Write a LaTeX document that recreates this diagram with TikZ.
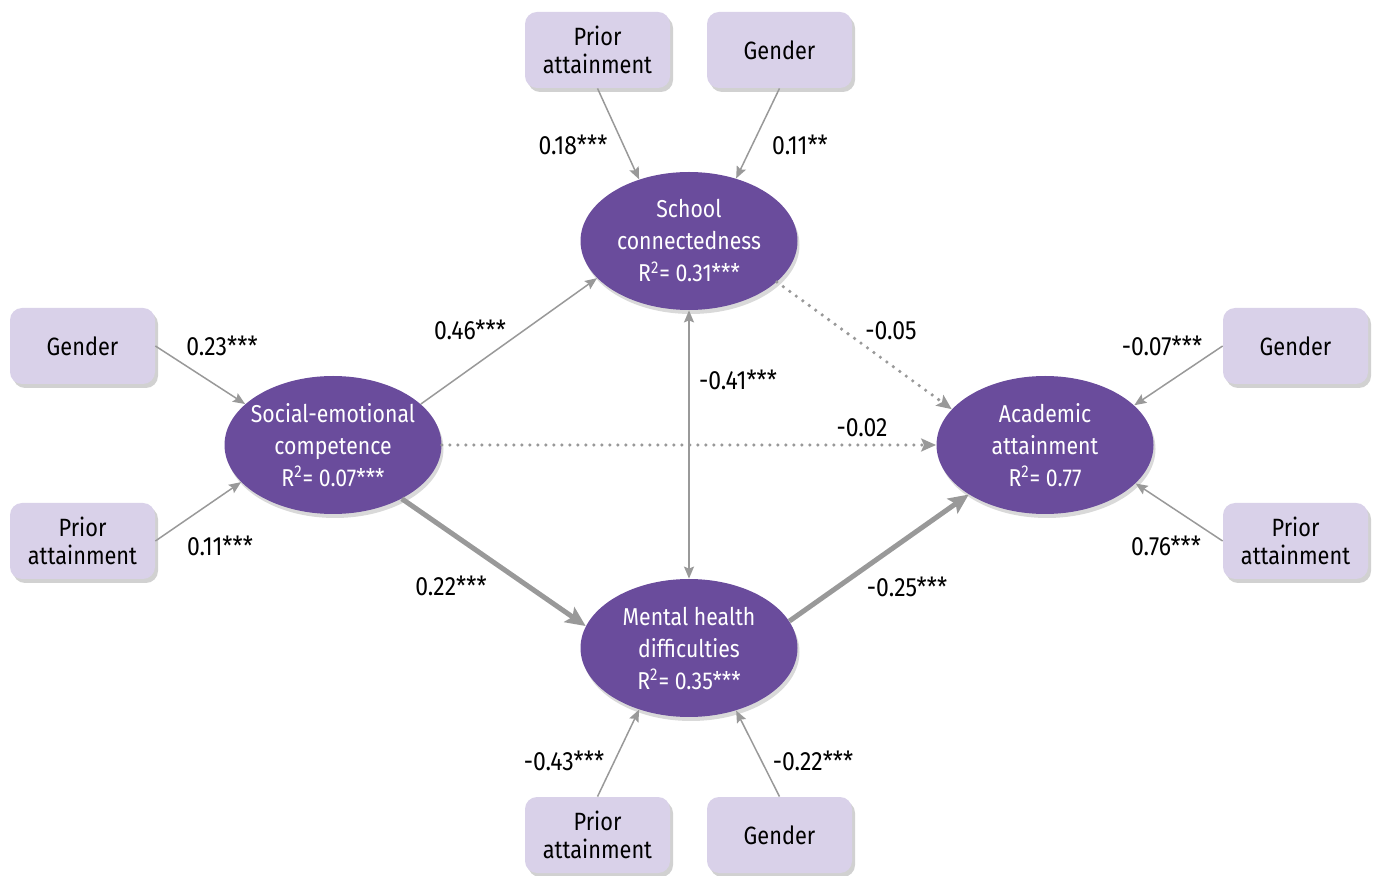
\documentclass[tikz,border=0pt]{standalone}
\usepackage{fontspec}
\setmainfont{Fira Sans}[FakeStretch=0.87]
\usetikzlibrary{shapes.geometric,arrows.meta,shadows}

\definecolor{boxfill}{HTML}{D9D1E9}
\definecolor{latentfill}{HTML}{6A4C9C}
\definecolor{arrowgray}{HTML}{999999}

\tikzset{
  observed/.style={fill=boxfill, rounded corners=6pt, minimum width=72.5pt,
    minimum height=38pt, inner sep=0pt, align=center,
    font=\fontsize{12.5}{14}\selectfont,
    drop shadow={shadow xshift=1.5pt, shadow yshift=-2pt, fill=black, opacity=0.18}},
  latent/.style={ellipse, fill=latentfill, text=white, minimum width=108.5pt,
    minimum height=69pt, inner xsep=-8pt, inner ysep=0pt, align=center,
    font=\fontsize{12.2}{16}\selectfont,
    drop shadow={shadow xshift=1pt, shadow yshift=-2pt, fill=black, opacity=0.15}},
  coef/.style={inner sep=0pt, font=\fontsize{13.2}{14}\selectfont},
  effect/.style={draw=arrowgray, line width=0.75pt,
    -{Stealth[length=6pt, width=5pt, inset=1pt, color=arrowgray]}},
  strongeffect/.style={draw=arrowgray, line width=2.5pt,
    -{Stealth[length=10pt, width=9pt, inset=2pt, color=arrowgray]}},
  nseffect/.style={draw=arrowgray, line width=1.8pt, line cap=round,
    dash pattern=on 0pt off 4pt,
    -{Stealth[length=7.5pt, width=6.5pt, inset=1.5pt, color=arrowgray]}},
  correl/.style={draw=arrowgray, line width=0.75pt,
    {Stealth[length=6pt, width=5pt, inset=1pt, color=arrowgray]}-{Stealth[length=6pt, width=5pt, inset=1pt, color=arrowgray]}}
}

\begin{document}
\begin{tikzpicture}[x=0.5pt, y=-0.5pt]
  \useasboundingbox (0,0) rectangle (1382,876);

  % latent variables
  \node[latent] (sc) at (689,241) {School\\connectedness\\R\textsuperscript{2}= 0.31***};
  \node[latent] (sec) at (333,445) {Social-emotional\\competence\\R\textsuperscript{2}= 0.07***};
  \node[latent] (ac) at (1045,445) {Academic\\attainment\\R\textsuperscript{2}= 0.77};
  \node[latent] (mh) at (689,648) {Mental health\\difficulties\\R\textsuperscript{2}= 0.35***};

  % observed covariates
  \node[observed] (tpa) at (597.5,50) {Prior\\attainment};
  \node[observed] (tg) at (779.5,50) {Gender};
  \node[observed] (lg) at (82.5,346) {Gender};
  \node[observed] (lpa) at (82.5,541) {Prior\\attainment};
  \node[observed] (rg) at (1295.5,346) {Gender};
  \node[observed] (rpa) at (1295.5,541) {Prior\\attainment};
  \node[observed] (bpa) at (597.5,835) {Prior\\attainment};
  \node[observed] (bg) at (779.5,835) {Gender};

  % covariate paths
  \draw[effect] (tpa.south) -- (sc.129);
  \draw[effect] (tg.south) -- (sc.53);
  \draw[effect] (lg.east) -- (sec.155);
  \draw[effect] (lpa.east) -- (sec.202);
  \draw[effect] (rg.west) -- (ac.24);
  \draw[effect] (rpa.west) -- (ac.-23);
  \draw[effect] (bpa.north) -- (mh.231);
  \draw[effect] (bg.north) -- (mh.-53);

  % structural paths
  \draw[effect] (sec.25) -- (sc.202);
  \draw[strongeffect] (sec.-38) -- (mh.168);
  \draw[strongeffect] (mh.15) -- (ac.213);
  \draw[nseffect] (sc.-25) -- (ac.159);
  \draw[nseffect] (sec.east) -- (ac.west);
  \draw[correl] (sc.south) -- (mh.north);

  % coefficients
  \node[coef] (c1) at (573,145) {0.18***};
  \node[coef] (c2) at (800,145) {0.11**};
  \node[coef] (c3) at (222,346) {0.23***};
  \node[coef] (c4) at (220,546) {0.11***};
  \node[coef] (c5) at (470,330) {0.46***};
  \node[coef] (c6) at (451,586) {0.22***};
  \node[coef] (c7) at (738,380) {-0.41***};
  \node[coef] (c8) at (891,331) {-0.05};
  \node[coef] (c9) at (862,428) {-0.02};
  \node[coef] (c10) at (907,587) {-0.25***};
  \node[coef] (c11) at (1162,346) {-0.07***};
  \node[coef] (c12) at (1166,546) {0.76***};
  \node[coef] (c13) at (564,761) {-0.43***};
  \node[coef] (c14) at (813,761) {-0.22***};
\end{tikzpicture}
\end{document}
